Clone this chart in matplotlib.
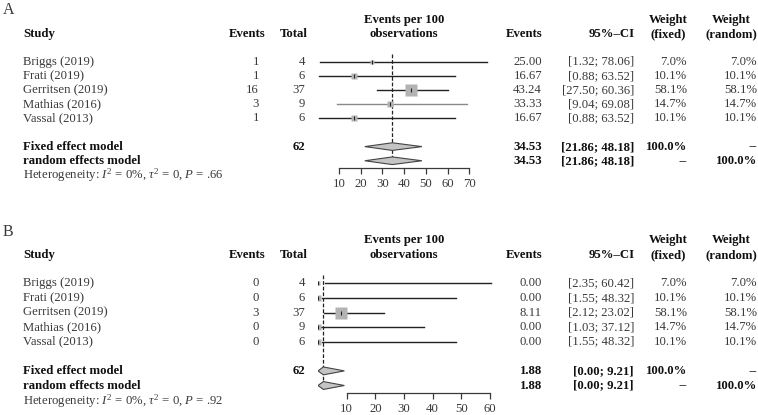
"""Forest plots: events per 100 observations (panels A and B)"""

import matplotlib
matplotlib.use('Agg')
import matplotlib.pyplot as plt
from matplotlib.transforms import blended_transform_factory

plt.rcParams['font.family'] = ['Liberation Serif', 'DejaVu Serif']
plt.rcParams['mathtext.fontset'] = 'custom'
plt.rcParams['mathtext.rm'] = 'Liberation Serif'
plt.rcParams['mathtext.it'] = 'Liberation Serif:italic'
plt.rcParams['mathtext.bf'] = 'Liberation Serif:bold'

# --- data ---
studies = ['Briggs (2019)', 'Frati (2019)', 'Gerritsen (2019)', 'Mathias (2016)', 'Vassal (2013)']
totals = [4, 6, 37, 9, 6]
w_fixed = [7.0, 10.1, 58.1, 14.7, 10.1]
w_random = [7.0, 10.1, 58.1, 14.7, 10.1]

a_events = [1, 1, 16, 3, 1]
a_est = [25.00, 16.67, 43.24, 33.33, 16.67]
a_lo = [1.32, 0.88, 27.50, 9.04, 0.88]
a_hi = [78.06, 63.52, 60.36, 69.08, 63.52]
a_pool = [34.53, 21.86, 48.18]
a_ticks = [10, 20, 30, 40, 50, 60, 70]
a_het = '.66'

b_events = [0, 0, 3, 0, 0]
b_est = [0.00, 0.00, 8.11, 0.00, 0.00]
b_lo = [2.35, 1.55, 2.12, 1.03, 1.55]
b_hi = [60.42, 48.32, 23.02, 37.12, 48.32]
b_pool = [1.88, 0.00, 9.21]
b_ticks = [10, 20, 30, 40, 50, 60]
b_het = '.92'

W, H = 758, 415
FS = 9.2
GREY = '#3a3a3a'

fig = plt.figure(figsize=(W / 100, H / 100), dpi=100)


def fx(px):
    return px / W


def panel(label, label_y, ax_rect, xlim, ticks, events, est, lo, hi, pool, het,
          line_colors):
    # ax_rect in pixels: left, top, right, bottom
    l, t, r, b = ax_rect
    ax = fig.add_axes([fx(l), 1 - b / H, (r - l) / W, (b - t) / H])
    ax.set_xlim(*xlim)
    ax.set_ylim(7.5, -0.6)
    for s in ['top', 'left', 'right']:
        ax.spines[s].set_visible(False)
    ax.spines['bottom'].set_bounds(ticks[0], ticks[-1])
    ax.spines['bottom'].set_color(GREY)
    ax.spines['bottom'].set_linewidth(0.9)
    ax.set_xticks(ticks)
    ax.set_yticks([])
    ax.tick_params(axis='x', direction='out', length=4, width=0.9, color=GREY,
                   labelsize=FS, labelcolor=GREY, pad=3)
    ax.patch.set_alpha(0)

    rows = list(range(len(studies)))
    for i in rows:
        ax.plot([lo[i], hi[i]], [i, i], color=line_colors[i], lw=1.0, zorder=2)
        ms = 8.9 * (w_fixed[i] / max(w_fixed)) ** 0.5
        ax.plot(est[i], i, marker='s', ms=ms, color='#b3b3b3', mec='none', zorder=3)
        ax.plot(est[i], i, marker='|', ms=3, color='#222222', mew=0.8, zorder=4)

    # pooled diamonds (fixed, random)
    for row in [6, 7]:
        ax.fill([pool[1], pool[0], pool[2], pool[0]],
                [row, row - 0.27, row, row + 0.27],
                facecolor='#c4c4c4', edgecolor='#444444', lw=0.8, zorder=3)
    ax.vlines(pool[0], -0.55, 7.2, colors='#222222', lw=0.9,
              linestyles=(0, (3, 1.5)), zorder=1)

    tr = blended_transform_factory(fig.transFigure, ax.transData)

    # panel label
    fig.text(fx(3), 1 - label_y / H, label, fontsize=11.5, va='center', color=GREY)

    # headers
    hb = dict(fontsize=FS, fontweight='bold', va='center', transform=tr, color='#111111')
    ax.text(fx(23), -1.95, 'Study', ha='left', **hb)
    ax.text(fx(265), -1.95, 'Events', ha='right', **hb)
    ax.text(fx(308), -1.95, 'Total', ha='right', **hb)
    ax.text(fx(404), -2.95, 'Events per 100', ha='center', **hb)
    ax.text(fx(404), -1.95, 'observations', ha='center', **hb)
    ax.text(fx(542), -1.95, 'Events', ha='right', **hb)
    ax.text(fx(635), -1.95, '95%\u2013CI', ha='right', **hb)
    ax.text(fx(668), -2.95, 'Weight', ha='center', **hb)
    ax.text(fx(668), -1.95, '(fixed)', ha='center', **hb)
    ax.text(fx(731), -2.95, 'Weight', ha='center', **hb)
    ax.text(fx(731), -1.95, '(random)', ha='center', **hb)

    # study rows
    tn = dict(fontsize=FS, va='center', transform=tr, color=GREY)
    for i in rows:
        ax.text(fx(23), i, studies[i], ha='left', **tn)
        ax.text(fx(259), i, str(events[i]), ha='right', **tn)
        ax.text(fx(305), i, str(totals[i]), ha='right', **tn)
        ax.text(fx(542), i, f'{est[i]:.2f}', ha='right', **tn)
        ax.text(fx(634), i, f'[{lo[i]:.2f}; {hi[i]:.2f}]', ha='right', **tn)
        ax.text(fx(687), i, f'{w_fixed[i]:.1f}%', ha='right', **tn)
        ax.text(fx(757), i, f'{w_random[i]:.1f}%', ha='right', **tn)

    # pooled rows
    ci = f'[{pool[1]:.2f}; {pool[2]:.2f}]'
    ax.text(fx(23), 6, 'Fixed effect model', ha='left', **hb)
    ax.text(fx(23), 7, 'random effects model', ha='left', **hb)
    ax.text(fx(305), 6, str(sum(totals)), ha='right', **hb)
    for row, wf, wr in [(6, '100.0%', '--'), (7, '--', '100.0%')]:
        ax.text(fx(542), row, f'{pool[0]:.2f}', ha='right', **hb)
        ax.text(fx(634), row, ci, ha='right', **hb)
        ax.text(fx(687), row, wf, ha='right', **hb)
        ax.text(fx(757), row, wr, ha='right', **hb)

    ax.text(fx(23), 8.05,
            r'Heterogeneity: $I^2$ = 0%, $\tau^2$ = 0, $P$ = ' + het,
            ha='left', **tn)
    return ax


# panel A: 0 -> 317.3 px, 2.172 px per unit; row 0 at 61.7, 14.15 px per row
a_scale, a_row = 2.172, 14.15
panel('A', 10,
      (317.3, 61.7 - 0.6 * a_row, 317.3 + 80 * a_scale, 61.7 + 7.5 * a_row),
      (0, 80), a_ticks, a_events, a_est, a_lo, a_hi, a_pool, a_het,
      ['#222222', '#222222', '#222222', '#8a8a8a', '#222222'])

# panel B: 0 -> 318 px, 2.866 px per unit; row 0 at 283.3, 14.6 px per row
b_scale, b_row = 2.866, 14.6
panel('B', 232,
      (318, 283.3 - 0.6 * b_row, 318 + 62 * b_scale, 283.3 + 7.5 * b_row),
      (0, 62), b_ticks, b_events, b_est, b_lo, b_hi, b_pool, b_het,
      ['#222222'] * 5)

fig.savefig('out.png', dpi=100)
